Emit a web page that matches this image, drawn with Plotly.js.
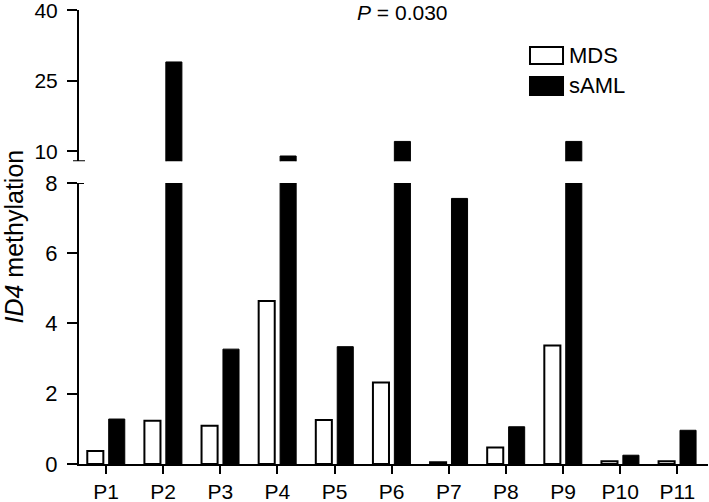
<!DOCTYPE html>
<html>
<head>
<meta charset="utf-8">
<script src="https://cdn.plot.ly/plotly-3.0.1.min.js"></script>
<style>html,body{margin:0;padding:0;background:#fff;}#chart{width:709px;height:502px;}</style>
</head>
<body>
<div id="chart"></div>
<script>
const categories = ["P1","P2","P3","P4","P5","P6","P7","P8","P9","P10","P11"];
const mdsValues  = [0.37, 1.23, 1.09, 4.64, 1.25, 2.32, 0.05, 0.47, 3.37, 0.08, 0.08];
const samlValues = [1.28, 29.0, 3.27, 9.0, 3.34, 12.1, 7.56, 1.06, 12.1, 0.25, 0.96];
const seriesNames = ["MDS", "sAML"];
const lowerTicks = [0, 2, 4, 6, 8];
const upperTicks = [10, 25, 40];
const pLabel = "<i>P</i> = 0.030";

const FONT = "Arial, 'Liberation Sans', sans-serif";
const mdsStyle = {color: "#ffffff", line: {color: "#000000", width: 2}};
const samlStyle = {color: "#000000", line: {color: "#000000", width: 1}};

function bars(yaxis) {
  return [
    {type: "bar", name: seriesNames[0], x: categories, y: mdsValues, xaxis: "x", yaxis: yaxis,
     marker: mdsStyle, showlegend: false, hoverinfo: "x+y+name"},
    {type: "bar", name: seriesNames[1], x: categories, y: samlValues, xaxis: "x", yaxis: yaxis,
     marker: samlStyle, showlegend: false, hoverinfo: "x+y+name"}
  ];
}

const data = bars("y").concat(bars("y2"));

const axisCommon = {
  showline: true, linecolor: "#000", linewidth: 2,
  ticks: "outside", ticklen: 10, tickwidth: 2, tickcolor: "#000",
  showgrid: false, zeroline: false, ticklabelstandoff: 5, ticklabeloverflow: "allow",
  tickfont: {family: FONT, size: 22, color: "#000"}
};

const layout = {
  width: 709, height: 502,
  margin: {l: 79, r: 1, t: 10, b: 38},
  paper_bgcolor: "#fff", plot_bgcolor: "#fff",
  barmode: "group", bargap: 0.25, bargroupgap: 0.25,
  showlegend: false,
  font: {family: FONT, color: "#000"},
  xaxis: Object.assign({}, axisCommon, {
    type: "category", range: [-0.473, 10.537], anchor: "y",
    ticklen: 8, ticklabelstandoff: 0,
    tickfont: {family: FONT, size: 21, color: "#000"}
  }),
  yaxis: Object.assign({}, axisCommon, {
    domain: [0, 0.619], range: [0, 8], tickvals: lowerTicks, anchor: "x"
  }),
  yaxis2: Object.assign({}, axisCommon, {
    domain: [0.667, 1], range: [7.9, 40.05], tickvals: upperTicks, anchor: "x",
    tickfont: {family: FONT, size: 21, color: "#000"}
  }),
  shapes: [
    {type: "line", xref: "paper", yref: "y2", x0: -6/629, x1: 6/629, y0: 7.9, y1: 7.9,
     line: {color: "#000", width: 2}},
    {type: "line", xref: "paper", yref: "y", x0: 0, x1: 5/629, y0: 8, y1: 8,
     line: {color: "#000", width: 2}},
    {type: "rect", xref: "paper", yref: "paper", x0: 0.717, x1: 0.7695, y0: 0.881, y1: 0.9185,
     line: {color: "#000", width: 2}, fillcolor: "#fff"},
    {type: "rect", xref: "paper", yref: "paper", x0: 0.717, x1: 0.7695, y0: 0.8128, y1: 0.8524,
     line: {color: "#000", width: 2}, fillcolor: "#000"}
  ],
  annotations: [
    {text: seriesNames[0], xref: "paper", yref: "paper", x: 0.7758, y: 0.8998,
     xanchor: "left", yanchor: "middle", showarrow: false, font: {family: FONT, size: 22, color: "#000"}},
    {text: seriesNames[1], xref: "paper", yref: "paper", x: 0.7758, y: 0.8326,
     xanchor: "left", yanchor: "middle", showarrow: false, font: {family: FONT, size: 22, color: "#000"}},
    {text: pLabel, xref: "paper", yref: "paper", x: 0.515, y: 0.9934,
     xanchor: "center", yanchor: "middle", showarrow: false, font: {family: FONT, size: 21, color: "#000"}},
    {text: "<i>ID4</i> methylation", xref: "paper", yref: "paper", x: (13 - 79) / 629, y: (464 - 236.5) / 454,
     xanchor: "center", yanchor: "middle", textangle: -90, showarrow: false,
     font: {family: FONT, size: 25, color: "#000"}}
  ]
};

Plotly.newPlot("chart", data, layout, {displayModeBar: false, staticPlot: true});
</script>
</body>
</html>
